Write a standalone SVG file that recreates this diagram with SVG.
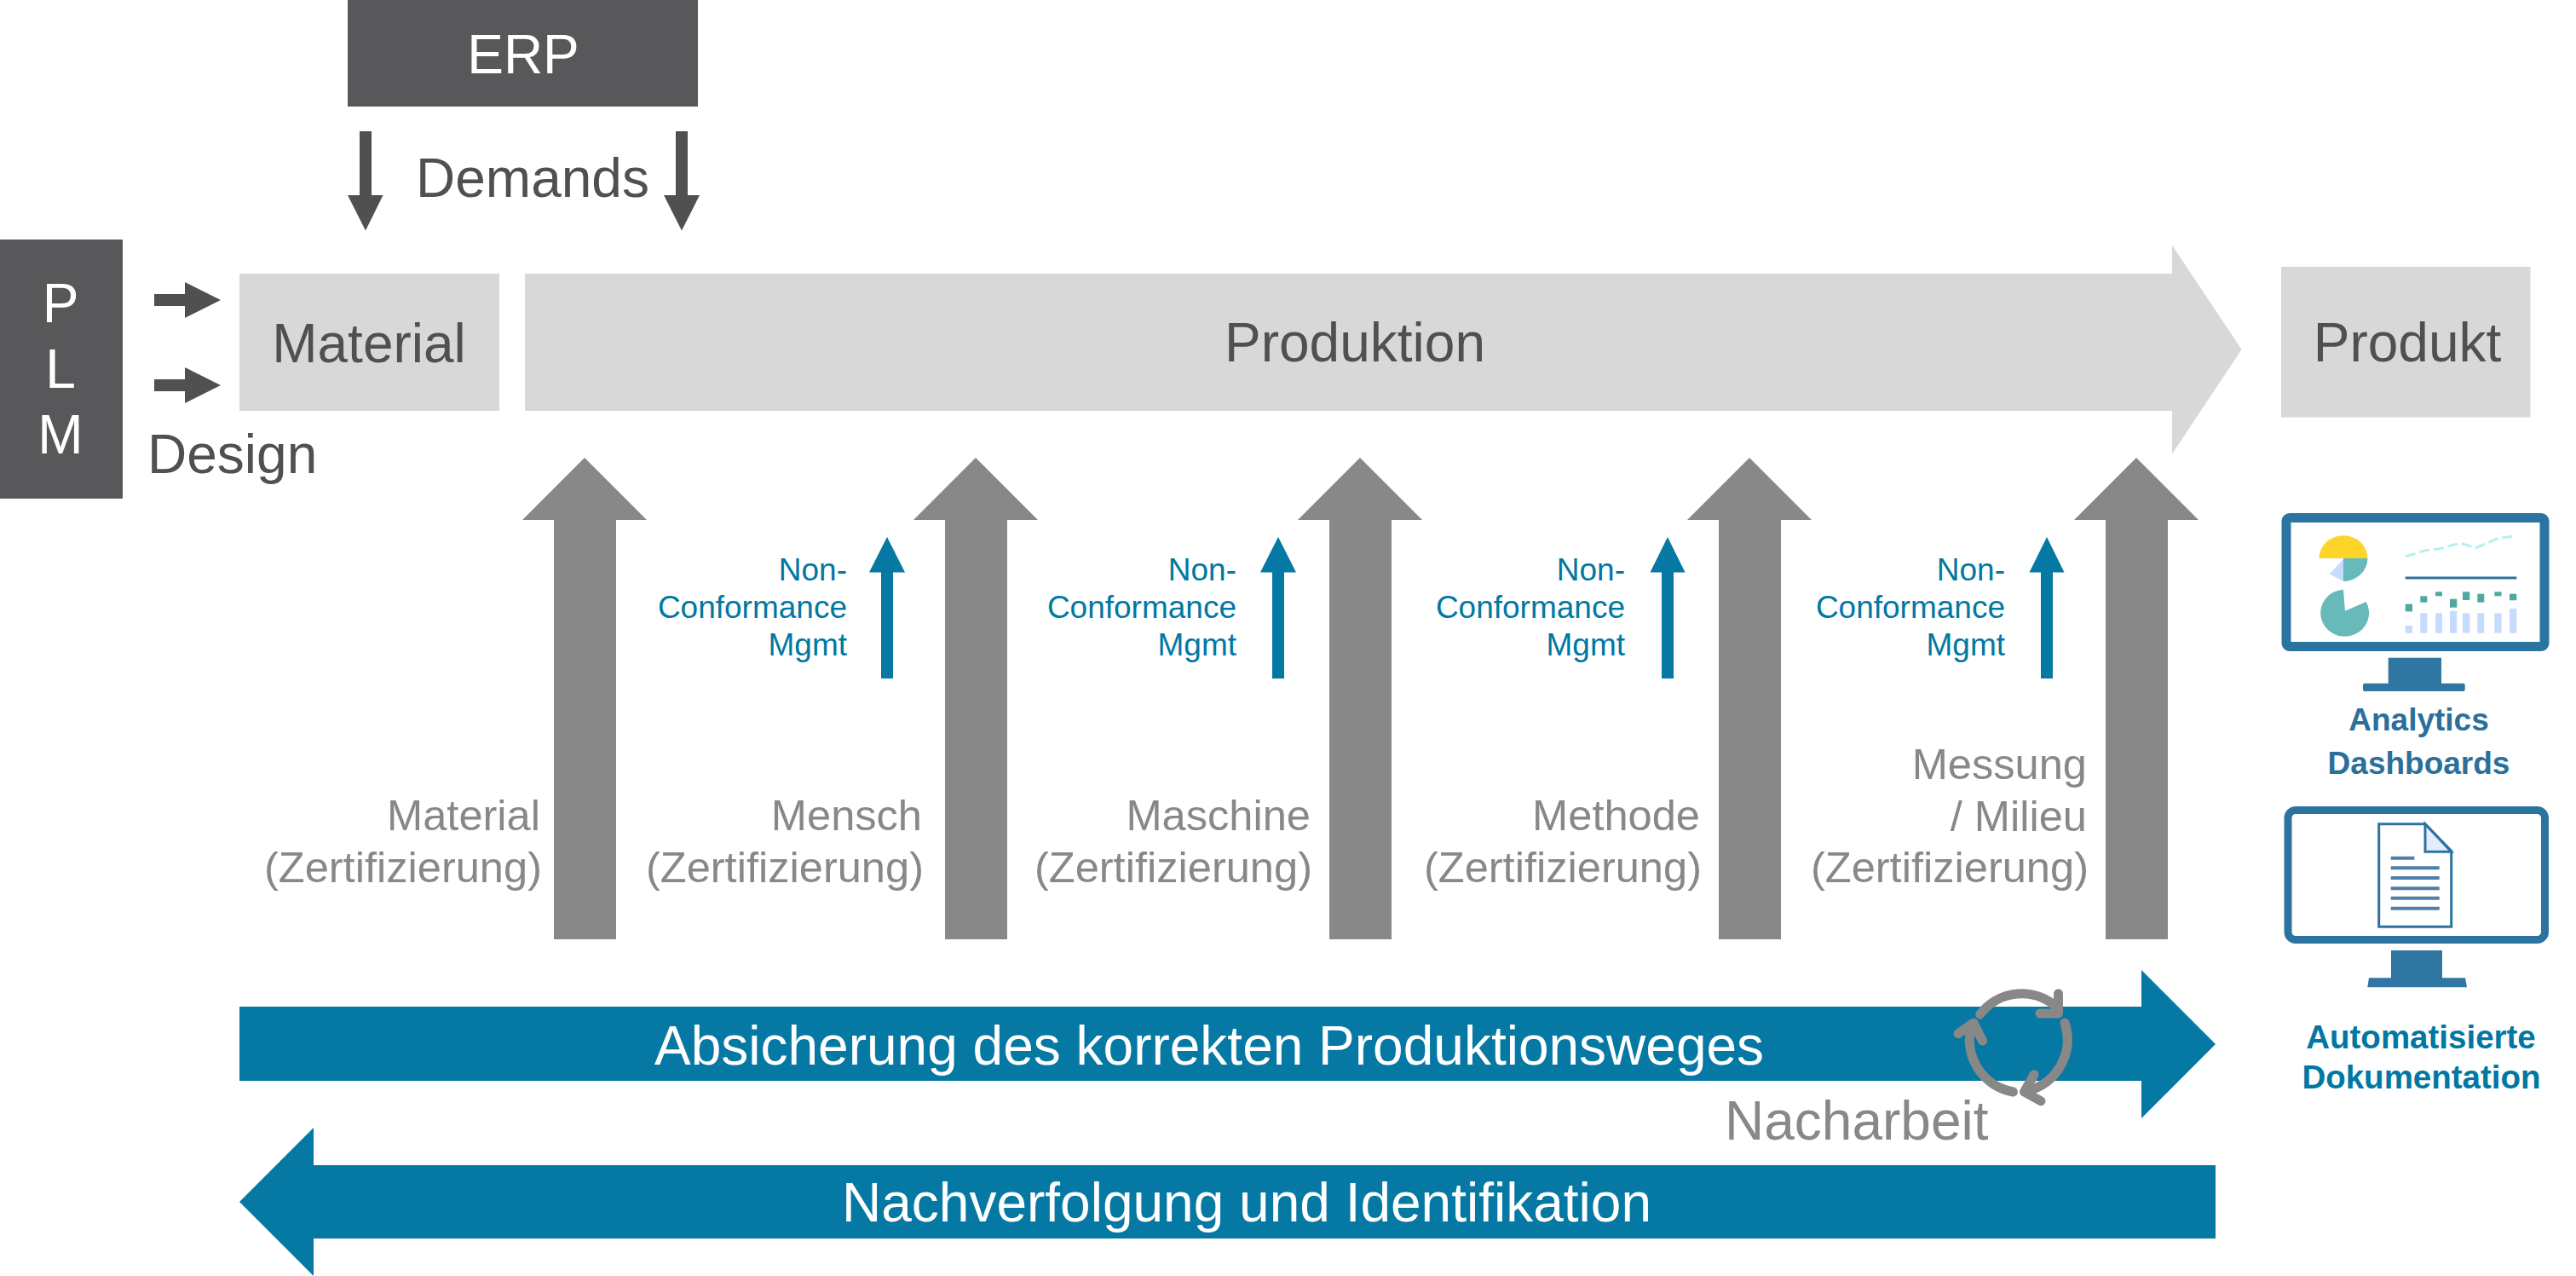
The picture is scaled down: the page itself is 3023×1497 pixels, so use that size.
<svg xmlns="http://www.w3.org/2000/svg" width="3023" height="1497" viewBox="0 0 3023 1497">
<style>
text{font-family:"Liberation Sans",Arial,sans-serif}
.t62{font-size:64px}
.dk{fill:#505050}
.wh{fill:#fff}
.gy{fill:#878887}
.mid{text-anchor:middle}
.l50{font-size:50.6px;fill:#878887;text-anchor:end}
.l37{font-size:37px;fill:#0078a3;text-anchor:end}
.boxD{fill:#58585a}
.boxL{fill:#d8d8d8}
.aD{fill:#505050}
.aG{fill:#878887}
.aB{fill:#0578a3}
.frame{fill:#fff;stroke:#2b74a0;stroke-linejoin:round}
.stand{fill:#2f76a2}
.cyc{fill:none;stroke:#878887;stroke-width:11;stroke-linecap:round;stroke-linejoin:round}
.bar{fill:#c6dcff}
.sq{fill:#4fa9a0}
.pie{fill:#68b9ba}
.dl{stroke:#4f7fa8;stroke-width:4}
</style>
<rect width="3023" height="1497" fill="#fff"/>

<g id="connectors">
<path id="erp-a1" class="aD" d="M422 154H436V229H449.5L429 270.6L408 229H422Z"/>
<path id="erp-a2" class="aD" d="M793 154H807V229H821L800 270.6L779 229H793Z"/>
<path id="plm-a1" class="aD" d="M181 345H217V331L259 352L217 373V359H181Z"/>
<path id="plm-a2" class="aD" d="M181 445H217V431L259 452L217 473V459H181Z"/>
<path id="up1" class="aG" d="M650 1102V610H613L686 537L759 610H723V1102Z"/>
<path id="up2" class="aG" d="M1109 1102V610H1072L1145 537L1218 610H1182V1102Z"/>
<path id="up3" class="aG" d="M1560 1102V610H1523L1596 537L1669 610H1633V1102Z"/>
<path id="up4" class="aG" d="M2017 1102V610H1980L2053 537L2126 610H2090V1102Z"/>
<path id="up5" class="aG" d="M2471 1102V610H2434L2507 537L2580 610H2544V1102Z"/>
<path id="nc1" class="aB" d="M1034 796V671.5H1020L1041 630L1062 671.5H1048V796Z"/>
<path id="nc2" class="aB" d="M1493 796V671.5H1479L1500 630L1521 671.5H1507V796Z"/>
<path id="nc3" class="aB" d="M1950 796V671.5H1936.5L1957 630L1977.5 671.5H1964V796Z"/>
<path id="nc4" class="aB" d="M2395 796V671.5H2381.5L2402 630L2422.5 671.5H2409V796Z"/>
</g>

<g id="erp"><rect class="boxD" x="408" y="0" width="411" height="125"/><text class="t62 wh mid" x="614" y="86">ERP</text></g>
<g id="demands"><text class="t62 dk" x="488" y="231">Demands</text></g>
<g id="plm"><rect class="boxD" x="0" y="281" width="144" height="304"/>
<text class="t62 wh mid" x="71" y="378">P</text><text class="t62 wh mid" x="71" y="455">L</text><text class="t62 wh mid" x="71" y="532">M</text></g>
<g id="design"><text class="t62 dk" x="173" y="555">Design</text></g>
<g id="material"><rect class="boxL" x="281" y="321" width="305" height="161"/><text class="t62 dk mid" x="433" y="425">Material</text></g>
<g id="produktion"><path class="boxL" d="M616 321H2549V287.7L2630.6 410L2549 532.7V482H616Z"/><text class="t62 dk mid" x="1590" y="424">Produktion</text></g>
<g id="produkt"><rect class="boxL" x="2677" y="313" width="292.500" height="176.600"/><text class="t62 dk mid" x="2825" y="424">Produkt</text></g>

<g id="label-material"><text class="l50" x="634" y="974">Material</text><text class="l50" x="636" y="1035">(Zertifizierung)</text></g>
<g id="label-mensch"><text class="l50" x="1082" y="974">Mensch</text><text class="l50" x="1084" y="1035">(Zertifizierung)</text></g>
<g id="label-maschine"><text class="l50" x="1538" y="974">Maschine</text><text class="l50" x="1540" y="1035">(Zertifizierung)</text></g>
<g id="label-methode"><text class="l50" x="1995" y="974">Methode</text><text class="l50" x="1997" y="1035">(Zertifizierung)</text></g>
<g id="label-messung"><text class="l50" x="2449" y="914">Messung</text><text class="l50" x="2449" y="975">/ Milieu</text><text class="l50" x="2451" y="1035">(Zertifizierung)</text></g>

<g id="ncm1"><text class="l37" x="994" y="681">Non-</text><text class="l37" x="994" y="725">Conformance</text><text class="l37" x="994" y="769">Mgmt</text></g>
<g id="ncm2"><text class="l37" x="1451" y="681">Non-</text><text class="l37" x="1451" y="725">Conformance</text><text class="l37" x="1451" y="769">Mgmt</text></g>
<g id="ncm3"><text class="l37" x="1907" y="681">Non-</text><text class="l37" x="1907" y="725">Conformance</text><text class="l37" x="1907" y="769">Mgmt</text></g>
<g id="ncm4"><text class="l37" x="2353" y="681">Non-</text><text class="l37" x="2353" y="725">Conformance</text><text class="l37" x="2353" y="769">Mgmt</text></g>

<g id="absicherung"><path class="aB" d="M281 1181H2513V1138L2600 1225L2513 1312V1268H281Z"/><text class="t62 wh" x="768" y="1249">Absicherung des korrekten Produktionsweges</text></g>
<g id="nachverfolgung"><path class="aB" d="M2600 1367H368V1323L281 1410L368 1497V1453H2600Z"/><text class="t62 wh" x="988" y="1433">Nachverfolgung und Identifikation</text></g>

<g id="nacharbeit">
<path class="cyc" d="M2323.700 1190A61 61 0 0 1 2414 1182"/>
<path class="cyc" d="M2415.500 1165.700V1189H2394"/>
<path class="cyc" d="M2423 1200A62 62 0 0 1 2388 1277"/>
<path class="cyc" d="M2387 1260.700L2375.500 1281L2395 1291.700"/>
<path class="cyc" d="M2362.400 1281A62 62 0 0 1 2314 1201.700"/>
<path class="cyc" d="M2298 1212.700L2316 1200L2326.500 1221"/>
<text class="t62 gy" x="2024" y="1337">Nacharbeit</text>
</g>

<g id="analytics">
<rect class="frame" x="2683" y="607.500" width="303" height="151" rx="4" stroke-width="11"/>
<rect class="stand" x="2802.700" y="771.700" width="62.300" height="32"/>
<rect class="stand" x="2773" y="801.700" width="119.700" height="9.300" rx="2"/>
<path fill="#ffd42a" d="M2721.500 655A28.500 26.700 0 0 1 2778.500 655Z"/>
<path class="pie" d="M2750 655H2778.500A28.500 27 0 0 1 2750 682Z"/>
<path fill="#c6dcff" d="M2750 656L2733.500 673.500L2750 682Z"/>
<path class="pie" d="M2752 716.700L2776.700 706A28.500 27.500 0 1 1 2750 691.700Z"/>
<path d="M2823 653L2845 646L2862 644L2887 637L2905 643L2933 631L2952 629" fill="none" stroke="#b4f0ee" stroke-width="3" stroke-dasharray="12 5"/>
<rect x="2822.700" y="676.500" width="130.600" height="3" fill="#2b74a0"/>
<rect class="bar" x="2822.700" y="734" width="8.300" height="8.700"/><rect class="bar" x="2840.300" y="719.300" width="8" height="23.400"/><rect class="bar" x="2858" y="719.300" width="8" height="23.400"/><rect class="bar" x="2875" y="716.700" width="8.300" height="26"/><rect class="bar" x="2890" y="719.300" width="8.300" height="23.400"/><rect class="bar" x="2907.300" y="719.300" width="8" height="23.400"/><rect class="bar" x="2927.300" y="719.300" width="8.300" height="23.400"/><rect class="bar" x="2945" y="714" width="8.300" height="28.700"/>
<rect class="sq" x="2822.700" y="708.700" width="8.300" height="8.700"/><rect class="sq" x="2840.300" y="699.300" width="8" height="7.400"/><rect class="sq" x="2858" y="694.300" width="8" height="5"/><rect class="sq" x="2875" y="702.700" width="8.300" height="10"/><rect class="sq" x="2890" y="694.300" width="8.300" height="9.700"/><rect class="sq" x="2907.300" y="696.700" width="8" height="10"/><rect class="sq" x="2927.300" y="694.300" width="8.300" height="5"/><rect class="sq" x="2945" y="696.700" width="8.300" height="7.600"/>
<text x="2838.500" y="857" font-size="37" font-weight="700" fill="#2b6f9b" text-anchor="middle">Analytics</text>
<text x="2838.500" y="907.700" font-size="37" font-weight="700" fill="#2b6f9b" text-anchor="middle">Dashboards</text>
</g>

<g id="dokumentation">
<rect class="frame" x="2685" y="950.500" width="301.500" height="152" rx="9" stroke-width="9"/>
<rect class="stand" x="2806" y="1115" width="60" height="34"/>
<path class="stand" d="M2780 1147.300H2893L2895 1158.300H2778.300Z"/>
<path d="M2791.700 966.700H2846L2876.700 998.300V1087.300H2791.700Z" fill="#fff" stroke="#2b74a0" stroke-width="3"/>
<path d="M2846 966.700V999.300H2876.700Z" fill="#e6ecff" stroke="#2b74a0" stroke-width="3"/>
<path class="dl" d="M2805.700 1006.700H2833.300M2805.700 1018.300H2862.700M2805.700 1030H2862.700M2805.700 1042.300H2862.700M2805.700 1053.700H2862.700M2805.700 1065.700H2862.700"/>
<text x="2841" y="1230" font-size="38.500" font-weight="700" fill="#0078a3" text-anchor="middle">Automatisierte</text>
<text x="2841.500" y="1277.300" font-size="38.500" font-weight="700" fill="#0078a3" text-anchor="middle">Dokumentation</text>
</g>
</svg>
